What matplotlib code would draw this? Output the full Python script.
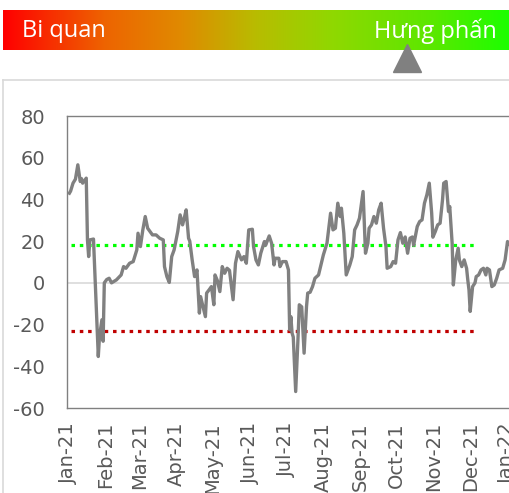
import numpy as np
import matplotlib
matplotlib.use("Agg")
import matplotlib.pyplot as plt
import matplotlib.dates as mdates
from matplotlib.colors import LinearSegmentedColormap
from matplotlib.lines import Line2D

plt.rcParams["axes.unicode_minus"] = False

# sentiment index (days counted from 1 Jan 2021)
start = np.datetime64("2021-01-01")
day_offset = [1, 2, 4, 6, 8, 10, 11, 12, 15, 16, 17, 18, 21, 25, 26, 28, 29, 30,
              32, 34, 36, 40, 44, 46, 48, 51, 54, 57, 58, 60, 62, 64, 66, 70, 73,
              76, 79, 80, 82, 84, 86, 88, 91, 93, 95, 96, 98, 100, 101, 103, 105,
              107, 109, 110, 112, 114, 115, 117, 119, 121, 122, 124, 126, 128, 130,
              132, 134, 137, 139, 141, 144, 146, 148, 150, 153, 154, 156, 158, 160,
              163, 164, 167, 169, 171, 172, 175, 176, 178, 181, 183, 184, 185, 186,
              187, 189, 191, 192, 194, 196, 198, 199, 201, 203, 205, 208, 210, 212,
              215, 218, 220, 222, 224, 226, 227, 229, 231, 234, 236, 238, 240, 242,
              245, 247, 249, 250, 252, 254, 256, 258, 260, 262, 264, 265, 268, 270,
              272, 274, 276, 278, 280, 282, 284, 286, 287, 290, 292, 294, 296, 298,
              300, 302, 303, 305, 307, 309, 311, 312, 314, 316, 317, 319, 320, 322,
              324, 325, 327, 329, 331, 332, 333, 334, 336, 338, 339, 341, 343, 345,
              347, 348, 350, 352, 354, 356, 358, 361, 363, 365, 368]
sentiment = [43, 44, 47.8, 49.7, 56.6, 48.6, 50, 47.8, 50.2, 20.6, 12.6, 20.6, 21,
             -35.3, -25.7, -17.7, -28, 0, 1.6, 2.2, 0, 1.4, 3.8, 7.8, 7, 9.4, 10.2,
             15.8, 23.8, 17.4, 25.4, 31.8, 26.2, 23, 23, 21.4, 20.6, 7.8, 3, 0.2,
             12.6, 15.8, 24.6, 32.6, 27.8, 30, 35, 21.4, 20, 11, 3, 6.2, -14.5, -6.6,
             -11.4, -16.2, -4.9, -3.4, -1.8, -10.5, 3.8, 1, -4.2, 7.8, 4.6, 7, 6,
             -8.1, 9.4, 15, 11, 12.6, 9.4, 25.4, 25.7, 17.4, 11, 8.6, 14.2, 19.8, 18,
             22.5, 19, 8.6, 11.8, 11.8, 7.8, 10.2, 10.2, 6.2, -22.5, -16.2, -24.1,
             -26, -52.1, -25.7, -10.5, -11.5, -33.7, -11.4, -4.9, -4.5, -1.8, 2.2,
             3.8, 8.6, 13.4, 19, 33.4, 25.4, 26.2, 38.2, 31.8, 35.8, 23.8, 3.8, 8.6,
             12.6, 25.4, 27.8, 31, 43.8, 14.2, 19, 26.2, 27.8, 31.8, 28.6, 35, 38.2,
             26.2, 17.4, 7, 7.8, 10.2, 9.4, 20.6, 24.1, 19, 22, 14.2, 21.4, 22, 18,
             27, 29.4, 30.2, 38.2, 42.2, 47.8, 33.4, 21.9, 24.6, 27.8, 28.6, 39.8,
             47.8, 48.6, 34.2, 36.6, 19, -1, 11, 16.6, 11, 7.8, 11, 7, 1.4, -3.4,
             -13.7, -1.8, 0, 3, 3.8, 6.2, 7, 3.8, 7, 6.2, -1.8, -1, 2.2, 6.2, 7, 11,
             19.8, 17.4]
dates = start + np.array(day_offset).astype("timedelta64[D]")

# threshold bands
upper_level = 18
lower_level = -23
level_dates = [np.datetime64("2021-01-03"), np.datetime64("2021-12-07")]

yticks = [-60, -40, -20, 0, 20, 40, 60, 80]
gauge_labels = ["Bi quan", "Hưng phấn"]
gauge_pos = 0.796

W, H = 510, 493
fig = plt.figure(figsize=(W / 100, H / 100), dpi=100)

# gauge bar on top
hax = fig.add_axes([3 / W, 1 - 50 / H, 507 / W, 40 / H])
cmap = LinearSegmentedColormap.from_list(
    "sent", [(0, "#ff0000"), (0.2, "#ee6400"), (0.35, "#e08a00"),
             (0.5, "#b8bc00"), (0.65, "#90d800"), (0.85, "#5ae800"), (1, "#1cff00")])
hax.imshow(np.linspace(0, 1, 256)[None, :], cmap=cmap, aspect="auto",
           extent=[0, 1, 0, 1])
hax.set_xlim(0, 1)
hax.set_ylim(0, 1)
hax.axis("off")
hax.text(0.0375, 0.47, gauge_labels[0], color="white", fontsize=17,
         family="Open Sans", ha="left", va="center")
hax.text(0.974, 0.47, gauge_labels[1], color="white", fontsize=17,
         family="Open Sans", ha="right", va="center")

fig.add_artist(Line2D([(3 + gauge_pos * 507) / W], [1 - 57.5 / H], marker="^",
                      ms=20, color="#808080", transform=fig.transFigure))

# panel border
fig.add_artist(Line2D([3 / W, 1], [1 - 80 / H] * 2, color="#d9d9d9", lw=1.2,
                      transform=fig.transFigure))
fig.add_artist(Line2D([3 / W] * 2, [0, 1 - 80 / H], color="#d9d9d9", lw=1.2,
                      transform=fig.transFigure))

# main chart
ax = fig.add_axes([67 / W, 1 - 408 / H, 473 / W, 292 / H])
ax.axhline(0, color="#d9d9d9", lw=1.2, zorder=0)
ax.plot(dates, sentiment, color="#808080", lw=2.4, zorder=3)
ax.plot(level_dates, [upper_level] * 2, color="#00ff00", lw=2.3,
        linestyle=(0, (1.1, 1.5)), dash_capstyle="butt", zorder=2)
ax.plot(level_dates, [lower_level] * 2, color="#c00000", lw=2.3,
        linestyle=(0, (1.1, 1.5)), dash_capstyle="butt", zorder=2)

x0 = np.datetime64("2020-12-31")
ax.set_xlim(x0, x0 + np.timedelta64(393, "D"))
ax.set_ylim(-60, 80)
ax.set_yticks(yticks)
ax.xaxis.set_major_locator(mdates.MonthLocator())
ax.xaxis.set_major_formatter(mdates.DateFormatter("%b-%y"))
ax.tick_params(axis="both", length=0, labelsize=14, colors="#595959")
ax.tick_params(axis="y", pad=16)
ax.tick_params(axis="x", pad=10, labelrotation=90)
for s in ["left", "top", "bottom"]:
    ax.spines[s].set_color("#808080")
    ax.spines[s].set_linewidth(1.0)
ax.spines["right"].set_visible(False)

fig.savefig("out.png", dpi=100)
